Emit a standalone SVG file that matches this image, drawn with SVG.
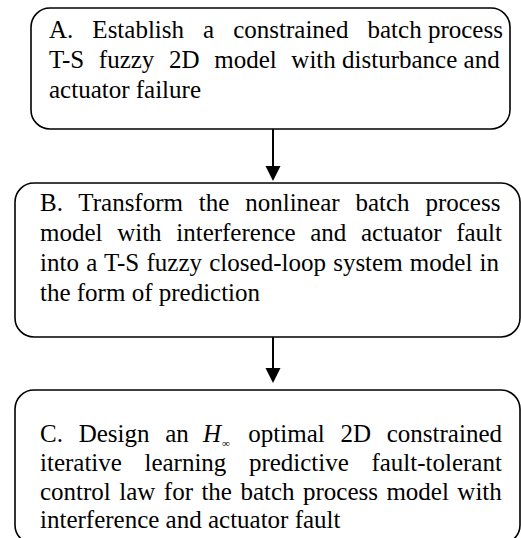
<svg xmlns="http://www.w3.org/2000/svg" width="521" height="538" viewBox="0 0 521 538">
<style>
.box{fill:#fff;stroke:#000;stroke-width:1.6}
.t{font-family:"Liberation Serif","Times New Roman",serif;font-size:25px;fill:#000}
.sub{font-family:"Liberation Serif","Times New Roman",serif;font-size:11px;fill:#000}
.conn{stroke:#000;stroke-width:2;fill:none}
</style>
<rect width="521" height="538" fill="#fff"/>
<g id="connectors">
<line class="conn" x1="273" y1="129" x2="273" y2="168"/>
<polygon points="265.5,166 280.5,166 273,181" fill="#000"/>
<line class="conn" x1="273" y1="337" x2="273" y2="370"/>
<polygon points="265.5,368 280.5,368 273,383" fill="#000"/>
</g>
<g id="nodeA">
<rect class="box" x="31" y="8" width="479" height="121" rx="19"/>
<text class="t" y="38"><tspan x="49" word-spacing="12.8">A. Establish a constrained batch</tspan><tspan> process</tspan></text>
<text class="t" y="68"><tspan x="49" word-spacing="8.4">T-S fuzzy 2D model with</tspan><tspan> disturbance and</tspan></text>
<text class="t" x="49" y="98">actuator failure</text>
</g>
<g id="nodeB">
<rect class="box" x="15" y="183" width="505" height="154" rx="19"/>
<text class="t" x="40" y="211" word-spacing="9.6">B. Transform the nonlinear batch process</text>
<text class="t" x="40" y="241" word-spacing="8.4">model with interference and actuator fault</text>
<text class="t" x="40" y="271" word-spacing="1">into a T-S fuzzy closed-loop system model in</text>
<text class="t" x="40" y="301">the form of prediction</text>
</g>
<g id="nodeC">
<rect class="box" x="15" y="390" width="505" height="154" rx="19"/>
<text class="t" x="40" y="442" word-spacing="9.5">C. Design an</text>
<text class="t" x="203" y="442" font-style="italic">H</text>
<text class="sub" x="222" y="447">∞</text>
<text class="t" x="502" y="442" text-anchor="end" word-spacing="9.5">optimal 2D constrained</text>
<text class="t" x="40" y="471" word-spacing="16.3">iterative learning predictive fault-tolerant</text>
<text class="t" x="40" y="500" word-spacing="2.2">control law for the batch process model with</text>
<text class="t" x="40" y="528">interference and actuator fault</text>
</g>
</svg>
